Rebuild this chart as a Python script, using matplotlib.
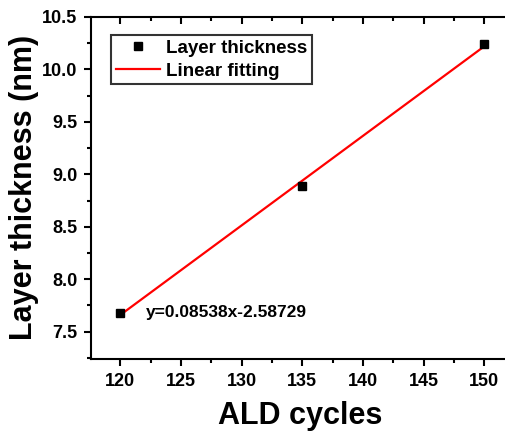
import numpy as np
import matplotlib
matplotlib.use("Agg")
import matplotlib.pyplot as plt
from matplotlib.ticker import MultipleLocator

plt.rcParams['font.family'] = ['Liberation Sans', 'DejaVu Sans']
plt.rcParams['font.weight'] = 'bold'

# data
cycles = [120, 135, 150]
thickness = [7.68, 8.89, 10.24]
slope = 0.08538
intercept = -2.58729
fit_x = np.array([120, 150])
fit_y = slope * fit_x + intercept

fig = plt.figure(figsize=(5.06, 4.34), dpi=100)
ax = fig.add_axes([0.18, 0.173, 0.825, 0.788])

ax.plot(cycles, thickness, 's', color='black', markersize=6, label='Layer thickness', zorder=3)
ax.plot(fit_x, fit_y, '-', color='red', linewidth=1.6, label='Linear fitting')

ax.text(122.1, 7.68, 'y=0.08538x-2.58729', fontsize=12.5, fontweight='bold', va='center')

ax.set_xlim(117.6, 152)
ax.set_ylim(7.24, 10.5)
ax.xaxis.set_major_locator(MultipleLocator(5))
ax.xaxis.set_minor_locator(MultipleLocator(2.5))
ax.yaxis.set_major_locator(MultipleLocator(0.5))
ax.yaxis.set_minor_locator(MultipleLocator(0.25))
ax.tick_params(which='both', top=True, right=False, width=1.5, direction='out')
ax.tick_params(which='major', length=5, labelsize=13, pad=5)
ax.tick_params(which='minor', length=3)
for lab in ax.get_xticklabels() + ax.get_yticklabels():
    lab.set_fontweight('bold')
# top ticks point inward
for t in ax.xaxis.get_major_ticks() + ax.xaxis.get_minor_ticks():
    t.tick2line.set_marker(matplotlib.lines.TICKDOWN)
for s in ax.spines.values():
    s.set_linewidth(1.5)
ax.spines['right'].set_visible(False)

ax.set_xlabel('ALD cycles', fontsize=22, fontweight='bold', labelpad=8)
ax.set_ylabel('Layer thickness (nm)', fontsize=22, fontweight='bold', labelpad=2)

leg = ax.legend(loc='upper left', bbox_to_anchor=(0.048, 0.947), borderaxespad=0,
                fontsize=13.5, frameon=True, fancybox=False, edgecolor='black',
                handlelength=2.35, handletextpad=0.32, borderpad=0.25,
                labelspacing=0.3, markerscale=0.85)
leg.get_frame().set_linewidth(1.5)
for t in leg.get_texts():
    t.set_fontweight('bold')

fig.savefig('out.png', dpi=100)
